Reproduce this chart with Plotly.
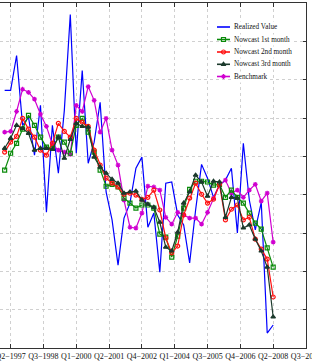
import plotly.graph_objects as go

# Quarterly series, Q1-1997 ... Q2-2008 (46 quarters)
quarter_idx = list(range(46))

realized = [2.72, 2.72, 3.63, 1.81, 2.02, 1.03, 2.33, -0.46, 1.81, 0.56,
            2.20, 4.70, 1.08, 3.24, 0.82, 1.37, 2.41, 0.07, -0.66, -1.84,
            -0.61, -0.22, 0.69, 0.98, -0.85, -0.48, -2.02, 0.30, 0.33, -0.53,
            -0.79, -1.78, -0.40, 0.79, 0.43, -0.07, 0.25, 0.38, 0.69, -1.00,
            1.34, -0.14, -0.92, -0.20, -3.61, -3.40]

nowcast_m1 = [0.64, 1.08, 1.34, 1.71, 2.07, 1.81, 1.50, 1.24, 1.21, 1.50,
              1.37, 1.08, 1.81, 1.99, 1.63, 1.11, 0.64, 0.22, 0.27, 0.20,
              -0.09, -0.22, -0.35, -0.27, -0.27, -0.35, -1.03, -1.11, -1.63, -1.08,
              -0.35, 0.14, 0.35, 0.35, 0.33, 0.25, 0.27, -0.07, 0.12, -0.07,
              -0.22, -0.48, -0.74, -0.90, -1.39, -1.89]

nowcast_m2 = [1.11, 1.37, 1.52, 1.99, 1.71, 1.50, 1.16, 1.03, 1.34, 1.86,
              1.65, 1.50, 1.99, 1.89, 1.78, 1.16, 0.77, 0.43, 0.30, 0.20,
              0.01, 0.04, -0.01, -0.12, -0.07, 0.12, -0.40, -1.13, -1.52, -1.34,
              -0.53, -0.09, 0.30, 0.01, -0.22, -0.12, 0.27, -0.66, -0.38, -0.27,
              -0.66, -0.59, -1.16, -1.42, -1.68, -2.67]

nowcast_m3 = [1.21, 1.47, 1.81, 1.73, 1.60, 1.16, 1.21, 1.21, 1.18, 1.50,
              0.95, 1.44, 1.86, 1.78, 1.76, 0.98, 0.72, 0.56, 0.40, 0.30,
              0.04, 0.07, 0.09, -0.14, -0.25, -0.33, -0.72, -1.37, -1.47, -0.98,
              -0.22, 0.07, 0.51, 0.33, -0.04, 0.35, 0.33, -0.59, -0.07, -0.09,
              -0.87, -0.79, -1.16, -1.47, -1.89, -3.19]

benchmark = [1.63, 1.65, 2.17, 2.75, 2.67, 2.49, 2.10, 1.78, 1.31, 1.16,
             1.11, 1.05, 2.33, 2.17, 2.82, 2.46, 1.63, 1.99, 1.16, 0.77,
             -0.14, -0.85, -0.87, -0.48, 0.22, 0.20, 0.12, -0.59, -0.77, -0.46,
             -0.53, -0.61, -0.61, -0.77, -0.46, -0.09, 0.25, 0.38, 0.04, 0.12,
             -0.07, 0.12, 0.27, -0.17, 0.04, -1.24]

tick_pos = [1, 6.5, 12, 17.5, 23, 28.5, 34, 39.5, 45, 50.5]
tick_labels = ["Q2\u22121997", "Q3\u22121998", "Q1\u22122000", "Q2\u22122001",
               "Q4\u22122002", "Q1\u22122004", "Q3\u22122005", "Q4\u22122006",
               "Q2\u22122008", "Q3\u22122009"]

series_names = ["Realized Value", "Nowcast 1st month", "Nowcast 2nd month",
                "Nowcast 3rd month", "Benchmark"]

BLUE = "#0000ff"
GREEN = "#0a8a0a"
RED = "#ff1010"
DARK = "#1c3a2c"
MAG = "#d000d0"

styles = [
    dict(color=BLUE, symbol=None),
    dict(color=GREEN, symbol="square-open"),
    dict(color=RED, symbol="circle-open"),
    dict(color=DARK, symbol="triangle-up"),
    dict(color=MAG, symbol="asterisk-open"),
]
data = [realized, nowcast_m1, nowcast_m2, nowcast_m3, benchmark]

fig = go.Figure()
order = [0, 4, 1, 2, 3]
for k in order:
    st = styles[k]
    if st["symbol"] is None:
        fig.add_trace(go.Scatter(x=quarter_idx, y=data[k], mode="lines",
                                 line=dict(color=st["color"], width=1.2),
                                 name=series_names[k], showlegend=False))
    else:
        fig.add_trace(go.Scatter(
            x=quarter_idx, y=data[k], mode="lines+markers",
            line=dict(color=st["color"], width=1.2),
            marker=dict(symbol=st["symbol"], size=4, color=st["color"],
                        line=dict(color=st["color"], width=1.2)),
            name=series_names[k], showlegend=False))

# compact legend drawn on an overlay axis spanning [0,1]
W, H, L, T = 306.0, 345.0, 0.0, 3.0
def px(xp):
    return (xp - L) / W
def py(yp):
    return 1 - (yp - T) / H

rows = [27, 39.5, 52, 64.3, 76.5]
for k, yr in enumerate(rows):
    st = styles[k]
    fig.add_trace(go.Scatter(
        x=[px(217), px(230)], y=[py(yr), py(yr)], xaxis="x2", yaxis="y2",
        mode="lines", line=dict(color=st["color"], width=1.6),
        showlegend=False, hoverinfo="skip"))
    if st["symbol"] is not None:
        fig.add_trace(go.Scatter(
            x=[px(223.5)], y=[py(yr)], xaxis="x2", yaxis="y2", mode="markers",
            marker=dict(symbol=st["symbol"], size=4, color=st["color"],
                        line=dict(color=st["color"], width=1.2)),
            showlegend=False, hoverinfo="skip"))
    fig.add_annotation(x=px(231.5), y=py(yr), xref="x2", yref="y2",
                       text=series_names[k], showarrow=False,
                       xanchor="left", yanchor="middle", bgcolor="white",
                       font=dict(family="Liberation Serif, Times New Roman, serif",
                                 size=7.2, color="#111"))

fig.update_layout(
    width=312, height=363,
    margin=dict(l=0, r=6, t=3, b=15, autoexpand=False),
    paper_bgcolor="white", plot_bgcolor="white",
    showlegend=False,
    xaxis=dict(range=[-0.78, 50.5], tickmode="array", tickvals=tick_pos,
               ticktext=tick_labels, ticks="inside", ticklen=4,
               tickcolor="#333", showline=True, linecolor="#333", linewidth=1,
               mirror="ticks", showgrid=True, gridcolor="#d0d0d0",
               griddash="dot", gridwidth=1, zeroline=False,
               ticklabeloverflow="allow", tickangle=0, automargin=False,
               tickfont=dict(family="Liberation Serif, Times New Roman, serif",
                             size=8, color="#111")),
    yaxis=dict(range=[-4, 5], dtick=1, tick0=0, side="right",
               showticklabels=False, ticks="inside", ticklen=3,
               tickcolor="#333", showline=True, linecolor="#333", linewidth=1,
               showgrid=True, gridcolor="#d0d0d0", griddash="dot", gridwidth=1,
               zeroline=False, automargin=False),
    xaxis2=dict(range=[0, 1], overlaying="x", visible=False),
    yaxis2=dict(range=[0, 1], overlaying="y", visible=False),
)

fig.write_html("out.html")
